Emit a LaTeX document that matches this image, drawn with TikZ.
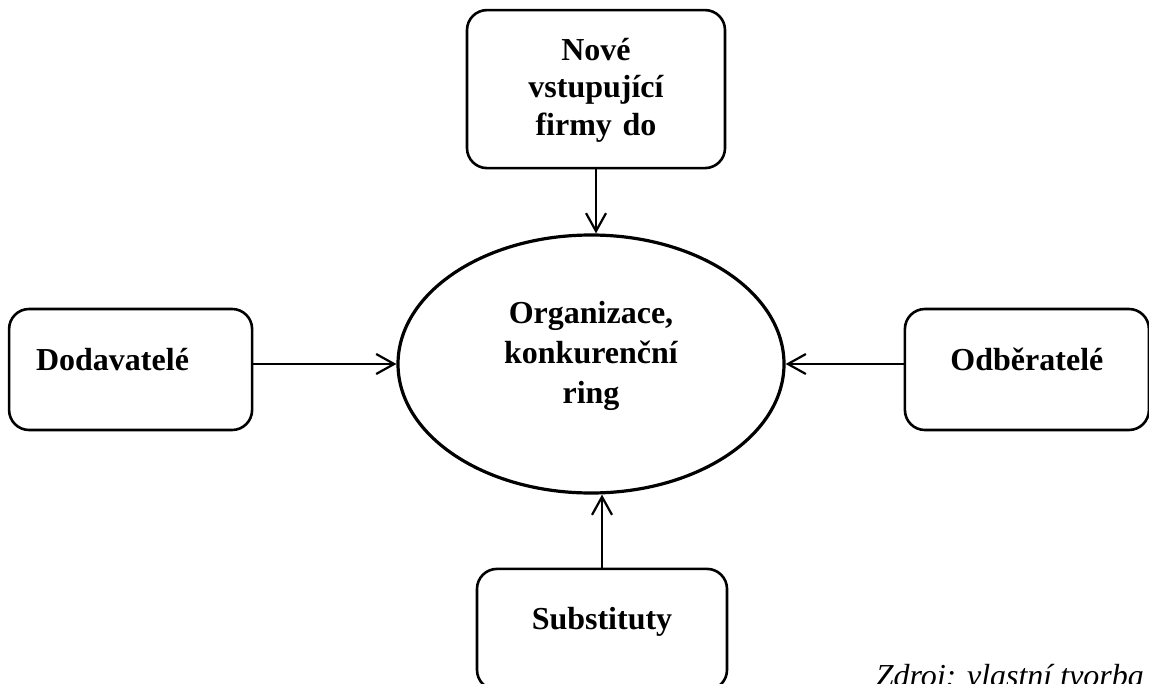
\documentclass[tikz,border=0pt]{standalone}
\usepackage{fontspec}
\setmainfont{Liberation Serif}
\usetikzlibrary{arrows.meta,positioning,shapes.geometric}

\begin{document}
\begin{tikzpicture}[x=0.5pt,y=-0.5pt,>={Straight Barb[length=9pt,width=10pt]},line width=1.1pt]
  \tikzstyle{every node}=[font=\bfseries\fontsize{16}{18.75}\selectfont]
  \tikzstyle{box}=[draw,rounded corners=10pt,line width=1.3pt,inner sep=0pt,align=center,text height=30.5pt,text depth=30pt]
  \useasboundingbox (0,0) rectangle (1149,684);
  \clip (0,0) rectangle (1149,684);
	\node[ellipse, draw, line width=1.6pt, inner sep=0pt, minimum width=193pt, minimum height=129pt, text width=100pt, align=center, text height=10pt, text depth=51pt, font=\bfseries\fontsize{16}{20}\selectfont] (org) at (591,364) {Organizace,\\konkurenční\\ring};
	\node[box, above=32pt of org, xshift=2.5pt, text width=129pt, text height=25pt, text depth=54pt] (nove) {Nové\\vstupující\\firmy do};
	\node[box, left=71.5pt of org, yshift=-2.75pt, inner xsep=13.5pt, text width=94.5pt, align=left] (dod) {Dodavatelé};
	\node[box, right=59pt of org, yshift=-2.75pt, text width=122pt] (odb) {Odběratelé};
	\node[box, below=36.5pt of org, xshift=5.5pt, text width=125pt] (subs) {Substituty};
	\node[anchor=base west, font=\itshape\fontsize{16}{18.75}\selectfont] (zdroj) at (868,686) {Zdroj: vlastní tvorba};

	\path[->]
	(nove.south) edge (nove.south |- org.north)
	(dod.east |- org.west) edge (org.west)
	(odb.west |- org.east) edge (org.east)
	(subs.north) edge (subs.north |- org.south);
\end{tikzpicture}
\end{document}
